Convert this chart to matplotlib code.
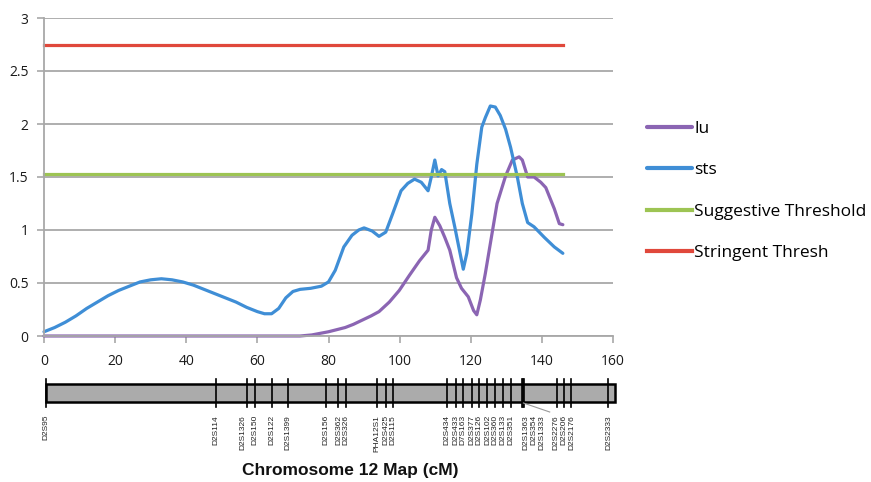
import matplotlib
matplotlib.use("Agg")
import matplotlib.pyplot as plt
from matplotlib.patches import Rectangle

# ---------------- data ----------------
sts_x = [0, 3, 6, 9, 12, 15, 18, 21, 24, 27, 30, 33, 36, 39, 42, 45, 48, 51, 54, 57,
         60, 62, 64, 66, 68, 70, 72, 75, 78, 80, 81.9, 84.3, 86.6, 88.5, 90, 92.3, 94.2,
         96.1, 98, 100.4, 102.3, 104.2, 106.1, 108, 108.9, 109.9, 110.8, 111.8, 112.7,
         114.1, 115.5, 117, 117.9, 118.9, 120.3, 121.7, 123.1, 124.1, 125.5, 126.9,
         128.3, 129.8, 131.2, 133.1, 134.5, 136, 137.8, 140.7, 143.5, 145.9]
sts_y = [0.04, 0.08, 0.13, 0.19, 0.26, 0.32, 0.38, 0.43, 0.47, 0.51, 0.53, 0.54, 0.53,
         0.51, 0.48, 0.44, 0.40, 0.36, 0.32, 0.27, 0.23, 0.21, 0.21, 0.26, 0.36, 0.42,
         0.44, 0.45, 0.47, 0.51, 0.62, 0.84, 0.95, 1.00, 1.02, 0.99, 0.94, 0.98, 1.15,
         1.37, 1.44, 1.48, 1.45, 1.37, 1.50, 1.66, 1.51, 1.57, 1.55, 1.25, 1.03, 0.78,
         0.63, 0.78, 1.15, 1.62, 1.97, 2.06, 2.17, 2.16, 2.08, 1.95, 1.78, 1.50, 1.25,
         1.07, 1.03, 0.93, 0.84, 0.78]

lu_x = [0, 72, 75.3, 80, 84.7, 87, 89.5, 92, 94.2, 97.1, 99.9, 102.7, 105.6, 108, 108.9,
        109.9, 111.3, 112.7, 114.1, 116, 117.4, 119.3, 120.8, 121.7, 122.7, 124.1, 125.5,
        127.4, 129.8, 131.7, 133.6, 134.5, 136, 137.8, 139.7, 141.1, 143.5, 144.9, 145.9]
lu_y = [0, 0, 0.01, 0.04, 0.08, 0.11, 0.15, 0.19, 0.23, 0.32, 0.43, 0.57, 0.71, 0.81,
        1.00, 1.12, 1.04, 0.93, 0.81, 0.55, 0.45, 0.37, 0.24, 0.20, 0.34, 0.59, 0.87,
        1.25, 1.51, 1.66, 1.69, 1.66, 1.50, 1.50, 1.45, 1.40, 1.20, 1.06, 1.05]

threshold_x = [0, 146]
suggestive = 1.53
stringent = 2.75

x_ticks = [0, 20, 40, 60, 80, 100, 120, 140, 160]
y_ticks = [0, 0.5, 1, 1.5, 2, 2.5, 3]
y_tick_labels = ["0", "0.5", "1", "1.5", "2", "2.5", "3"]

markers = ["D2S95", "D2S114", "D2S1326", "D2S150", "D2S122", "D2S1399", "D2S156",
           "D2S362", "D2S326", "PHA12S1", "D2S425", "D2S115", "D2S434", "D2S433",
           "D7S163", "D2S377", "D2S126", "D2S102", "D2S360", "D2S133", "D2S351",
           "D2S1363", "D2S354", "D2S1333", "D2S2276", "D2S206", "D2S2176", "D2S2333"]
marker_cm = [0.6, 48.3, 57.2, 59.2, 64.2, 68.7, 79.2, 82.8, 84.8, 93.7, 96.1, 98.1,
             113.4, 115.8, 117.8, 120.4, 122.3, 124.7, 126.8, 129.1, 131.2,
             134.4, 134.8, 135.1, 144.3, 146.2, 148.1, 158.7]
label_cm = [0.6, 48.3, 55.8, 59.2, 64.2, 68.7, 79.2, 82.8, 84.8, 93.7, 96.1, 98.1,
            113.4, 115.8, 117.8, 120.4, 122.4, 124.7, 126.8, 129.1, 131.3,
            135.6, 137.8, 140.0, 144.0, 146.2, 148.4, 158.7]
map_start, map_end = 0.5, 160.5

# ---------------- styling ----------------
C_LU = "#8B65B3"
C_STS = "#3F8ED6"
C_SUG = "#9DC453"
C_STR = "#E0483B"
GRID = "#A8A8A8"

W, H = 871, 482
fig = plt.figure(figsize=(W / 100, H / 100), dpi=100)
plt.rcParams["font.family"] = ["Open Sans", "DejaVu Sans"]

L, R, T, B = 44, 613, 18, 336
ax = fig.add_axes([L / W, 1 - B / H, (R - L) / W, (B - T) / H])
ax.set_xlim(0, 160)
ax.set_ylim(0, 3)
ax.set_xticks(x_ticks)
ax.set_xticklabels([str(t) for t in x_ticks])
ax.set_yticks(y_ticks)
ax.set_yticklabels(y_tick_labels)
ax.yaxis.grid(True, color=GRID, lw=1.3)
ax.set_axisbelow(True)
for s in ["top", "right"]:
    ax.spines[s].set_visible(False)
for s in ["left", "bottom"]:
    ax.spines[s].set_color(GRID)
    ax.spines[s].set_linewidth(1.3)
ax.tick_params(axis="both", colors=GRID, labelcolor="#1a1a1a", labelsize=10,
               length=5, width=1.2)
ax.tick_params(axis="x", pad=8)
ax.tick_params(axis="y", pad=6)

kw = dict(lw=2.3, solid_capstyle="round", solid_joinstyle="round")
l1, = ax.plot(lu_x, lu_y, color=C_LU, label="lu", **kw)
l2, = ax.plot(sts_x, sts_y, color=C_STS, label="sts", **kw)
l3, = ax.plot(threshold_x, [suggestive] * 2, color=C_SUG, label="Suggestive Threshold", lw=2.3)
l4, = ax.plot(threshold_x, [stringent] * 2, color=C_STR, label="Stringent Thresh", lw=2.3)
for ln in (l1, l2, l3, l4):
    ln.set_clip_on(False)

leg = fig.legend(handles=[l1, l2, l3, l4], loc="upper left",
                 bbox_to_anchor=(647 / W, 1 - 121 / H), frameon=False,
                 fontsize=12.5, handlelength=2.6, handletextpad=0.12,
                 labelspacing=1.45, borderpad=0, borderaxespad=0)
for h in leg.legend_handles:
    h.set_linewidth(3)

# ---------------- chromosome map ----------------
mt, mb = 370, 482
mx = fig.add_axes([L / W, 1 - mb / H, (R - L) / W, (mb - mt) / H])
mx.set_xlim(0, 160)
mx.set_ylim(mb - mt, 0)
mx.axis("off")
bar_top, bar_bot = 14, 32
mx.add_patch(Rectangle((map_start, bar_top), map_end - map_start, bar_bot - bar_top,
                       facecolor="#ABABAB", edgecolor="black", lw=1.8, clip_on=False))
for cm, lcm, name in zip(marker_cm, label_cm, markers):
    mx.plot([cm, cm], [9, 37], color="black", lw=1.2, clip_on=False)
    mx.text(lcm, 45, name, rotation=90, ha="center", va="top", fontsize=6.0,
            family="Liberation Sans", color="#222222")
# connector for fanned labels
mx.plot([marker_cm[22], label_cm[23] + 2.2], [33, 42], color="#999999", lw=0.8,
        clip_on=False)

fig.text(350 / W, 1 - 470 / H, "Chromosome 12 Map (cM)", ha="center", va="center",
         fontsize=12.5, fontweight="bold", family="Liberation Sans", color="#111111")

fig.savefig("out.png", dpi=100)
